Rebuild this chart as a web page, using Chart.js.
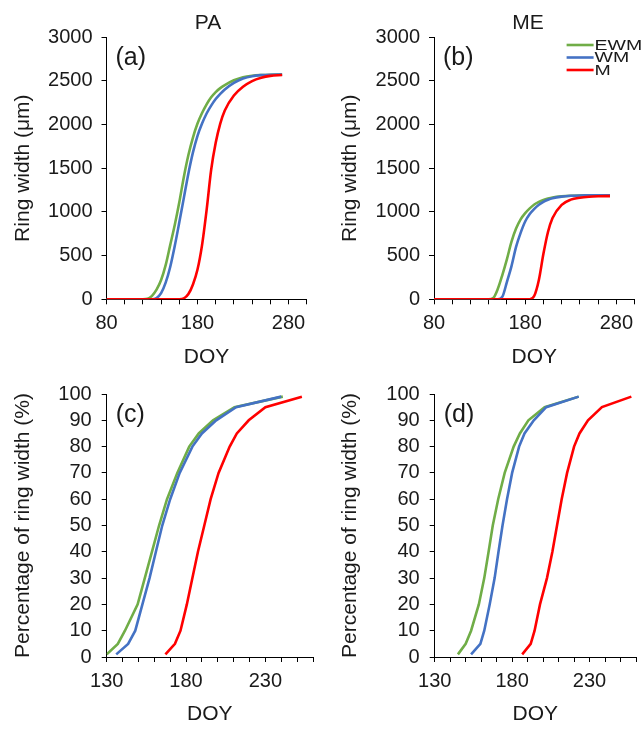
<!DOCTYPE html>
<html>
<head>
<meta charset="utf-8">
<script src="https://cdn.jsdelivr.net/npm/chart.js@4.4.1/dist/chart.umd.min.js"></script>
<style>
  body { margin: 0; background: #fff; }
  #wrap { position: relative; width: 643px; height: 729px; overflow: hidden; background: #fff; font-family: "Liberation Sans", Arial, sans-serif; color: #1a1a1a; }
  canvas { position: absolute; }
  .hdr { position: absolute; width: 100px; text-align: center; font-size: 21px; line-height: 24px; }
</style>
</head>
<body>
<div id="wrap">
  <canvas id="cA" width="320" height="372" style="left:0;top:0"></canvas>
  <canvas id="cB" width="323" height="372" style="left:320px;top:0"></canvas>
  <canvas id="cC" width="320" height="357" style="left:0;top:372px"></canvas>
  <canvas id="cD" width="323" height="357" style="left:320px;top:372px"></canvas>
  <div class="hdr" style="left:158px;top:10px">PA</div>
  <div class="hdr" style="left:478px;top:10px">ME</div>
</div>
<script>
const seriesNames = ['EWM', 'WM', 'M'];
const seriesColors = ['#70ad47', '#4472c4', '#ff0000'];

// (a), (b): ring width (µm) by day of year
const gridDays = [80, 120, 125, 130, 135, 140, 145, 150, 155, 160, 165, 170, 175, 180, 185, 190, 195, 200, 205, 210, 220, 230, 240, 250, 260, 273];

const paWidthEWM = [0, 0, 5, 40, 110, 220, 390, 620, 850, 1110, 1400, 1650, 1850, 2010, 2130, 2230, 2310, 2370, 2415, 2450, 2505, 2540, 2557, 2565, 2569, 2570];
const paWidthWM  = [0, 0, 0, 0, 15, 70, 190, 370, 610, 880, 1160, 1440, 1680, 1870, 2010, 2125, 2215, 2290, 2350, 2400, 2475, 2525, 2552, 2564, 2569, 2570];
const paWidthM   = [0, 0, 0, 0, 0, 0, 0, 0, 0, 0, 10, 60, 170, 340, 620, 1020, 1480, 1790, 2010, 2160, 2330, 2430, 2495, 2533, 2555, 2565];

const meWidthEWM = [0, 0, 0, 0, 0, 0, 15, 120, 280, 460, 660, 810, 915, 985, 1040, 1085, 1115, 1137, 1153, 1165, 1178, 1185, 1188, 1189, 1190, 1190];
const meWidthWM  = [0, 0, 0, 0, 0, 0, 0, 0, 30, 200, 380, 600, 760, 890, 975, 1035, 1082, 1115, 1138, 1155, 1174, 1184, 1188, 1189, 1190, 1190];
const meWidthM   = [0, 0, 0, 0, 0, 0, 0, 0, 0, 0, 0, 0, 0, 0, 0, 40, 220, 520, 770, 930, 1080, 1140, 1162, 1173, 1178, 1180];

// (c), (d): day of year when each percentage of ring width is reached
const pctLevels = [1, 5, 10, 20, 30, 40, 50, 60, 70, 80, 85, 90, 95, 99];

const paDayEWM = [130, 137, 141.5, 149.5, 154, 158.5, 163, 168, 174.5, 182, 188, 197, 210.5, 241];
const paDayWM  = [136, 143.5, 148, 152.5, 157, 161, 165, 170, 176, 184, 190, 199, 211.5, 240];
const paDayM   = [167, 173, 176.5, 180.5, 184, 187.5, 191.5, 195.5, 200.5, 207.5, 212, 219.5, 230, 253];

const meDayEWM = [145, 150, 153.5, 158.5, 162, 164.8, 167.5, 171, 175.2, 181, 185, 190.5, 201, 223];
const meDayWM  = [153.5, 159.5, 162, 165.5, 168.7, 171.2, 173.8, 176.7, 180, 184.5, 188, 194, 202, 223];
const meDayM   = [186.5, 192, 194.5, 198, 202.5, 206, 209, 212, 215.5, 220, 223.5, 229, 238, 257];

Chart.defaults.font.family = '"Liberation Sans", Arial, sans-serif';
Chart.defaults.color = '#1a1a1a';

const pairs = (xs, ys) => xs.map((x, i) => ({ x: x, y: ys[i] }));

function makeSets(xsList, ysList, smooth) {
  return seriesNames.map((name, i) => ({
    label: name,
    data: pairs(xsList[i], ysList[i]),
    borderColor: seriesColors[i],
    borderWidth: 2.6,
    pointRadius: 0,
    fill: false,
    order: 2 - i,
    tension: smooth ? 0.4 : 0,
    cubicInterpolationMode: smooth ? 'monotone' : 'default'
  }));
}

// panel letter inside the plot, top-left
const panelTag = {
  id: 'panelTag',
  afterDraw(chart, args, opts) {
    const { ctx, chartArea } = chart;
    ctx.save();
    ctx.font = '25px "Liberation Sans", Arial, sans-serif';
    ctx.fillStyle = '#1a1a1a';
    ctx.textBaseline = 'top';
    ctx.fillText(opts.text, chartArea.left + 9, chartArea.top + 9);
    ctx.restore();
  }
};

// small line legend in the top-right corner (only panel b uses it)
const cornerLegend = {
  id: 'cornerLegend',
  afterDraw(chart, args, opts) {
    if (!opts.show) return;
    const { ctx, chartArea } = chart;
    const x0 = chartArea.right - 68;
    ctx.save();
    ctx.font = '15px "Liberation Sans", Arial, sans-serif';
    ctx.textBaseline = 'middle';
    chart.data.datasets.forEach((ds, i) => {
      const y = chartArea.top + 8 + i * 12.5;
      ctx.strokeStyle = ds.borderColor;
      ctx.lineWidth = 2.6;
      ctx.beginPath();
      ctx.moveTo(x0, y);
      ctx.lineTo(x0 + 27, y);
      ctx.stroke();
      ctx.save();
      ctx.translate(x0 + 28, y);
      ctx.scale(1.3, 1);
      ctx.fillStyle = '#1a1a1a';
      ctx.fillText(ds.label, 0, 0.5);
      ctx.restore();
    });
    ctx.restore();
  }
};

function makePanel(id, p) {
  new Chart(document.getElementById(id), {
    type: 'line',
    data: { datasets: p.sets },
    plugins: [panelTag, cornerLegend],
    options: {
      responsive: false,
      animation: false,
      devicePixelRatio: 1,
      layout: { padding: p.pad },
      plugins: {
        legend: { display: false },
        tooltip: { enabled: false },
        panelTag: { text: p.tag },
        cornerLegend: { show: !!p.legend }
      },
      scales: {
        x: {
          type: 'linear', min: p.xMin, max: p.xMax,
          afterFit: s => { s.height = p.xH; },
          ticks: {
            stepSize: p.xStep, autoSkip: false, maxRotation: 0, padding: 7,
            font: { size: 20 },
            callback: v => ((v - p.xMin) % p.xLabelStep === 0 ? String(v) : '')
          },
          grid: { drawOnChartArea: false, tickLength: 5, color: '#000' },
          border: { color: '#000', width: 1 },
          title: { display: true, text: 'DOY', font: { size: 21 }, padding: { top: 0, bottom: 2 } }
        },
        y: {
          min: p.yMin, max: p.yMax,
          afterFit: s => { s.width = p.yW; },
          ticks: { stepSize: p.yStep, autoSkip: false, padding: p.yTickPad, font: { size: 20 }, callback: v => String(v) },
          grid: { drawOnChartArea: false, tickLength: 5, color: '#000' },
          border: { color: '#000', width: 1 },
          title: { display: true, text: p.yTitle, font: { size: 21 }, padding: { top: p.yTitlePad, bottom: 0 } }
        }
      }
    }
  });
}

const gridAll = [gridDays, gridDays, gridDays];

makePanel('cA', {
  sets: makeSets(gridAll, [paWidthEWM, paWidthWM, paWidthM], true),
  tag: '(a)', pad: { top: 37, right: 13.3, bottom: 0, left: 0 },
  xMin: 80, xMax: 300, xStep: 20, xLabelStep: 100, xH: 72.7,
  yMin: 0, yMax: 3000, yStep: 500, yW: 106.5, yTickPad: 9,
  yTitle: 'Ring width (μm)', yTitlePad: 11
});

makePanel('cB', {
  sets: makeSets(gridAll, [meWidthEWM, meWidthWM, meWidthM], true),
  tag: '(b)', pad: { top: 37, right: 8.4, bottom: 0, left: 0 }, legend: true,
  xMin: 80, xMax: 300, xStep: 20, xLabelStep: 100, xH: 72.7,
  yMin: 0, yMax: 3000, yStep: 500, yW: 114, yTickPad: 9,
  yTitle: 'Ring width (μm)', yTitlePad: 18
});

makePanel('cC', {
  sets: makeSets([paDayEWM, paDayWM, paDayM], [pctLevels, pctLevels, pctLevels], false),
  tag: '(c)', pad: { top: 17.3, right: 6, bottom: 0, left: 0 },
  xMin: 130, xMax: 260, xStep: 10, xLabelStep: 50, xH: 72,
  yMin: 0, yMax: 100, yStep: 10, yW: 106.7, yTickPad: 10,
  yTitle: 'Percentage of ring width (%)', yTitlePad: 11
});

makePanel('cD', {
  sets: makeSets([meDayEWM, meDayWM, meDayM], [pctLevels, pctLevels, pctLevels], false),
  tag: '(d)', pad: { top: 19.7, right: 0.3, bottom: 0, left: 0 },
  xMin: 130, xMax: 260, xStep: 10, xLabelStep: 50, xH: 72,
  yMin: 0, yMax: 100, yStep: 10, yW: 114.7, yTickPad: 10,
  yTitle: 'Percentage of ring width (%)', yTitlePad: 18
});
</script>
</body>
</html>
